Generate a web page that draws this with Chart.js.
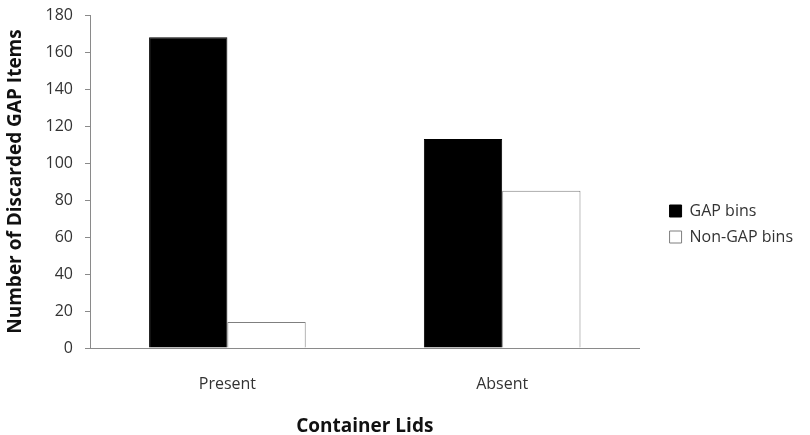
<!DOCTYPE html>
<html>
<head>
<meta charset="utf-8">
<script src="https://cdn.jsdelivr.net/npm/chart.js@4"></script>
<style>
  html, body { margin: 0; padding: 0; background: #fff; }
  #wrap { width: 810px; height: 435px; }
</style>
</head>
<body>
<div id="wrap"><canvas id="chart"></canvas></div>
<script>
const categories = ["Present", "Absent"];
const gap_bins = [168, 113];
const non_gap_bins = [14, 85];
const series_names = ["GAP bins", "Non-GAP bins"];
const y_ticks = [0, 20, 40, 60, 80, 100, 120, 140, 160, 180];

const font_family = "'Open Sans', 'Noto Sans', sans-serif";
const legend_gap = 20;
const ctx = document.getElementById("chart").getContext("2d");

// push the legend a bit away from the plot, like the original
const legendShift = {
  id: "legendShift",
  beforeLayout(chart) {
    const lg = chart.legend;
    if (!lg || lg._shifted) return;
    lg._shifted = true;
    const fit = lg.fit.bind(lg);
    lg.fit = function () { fit(); this.width += legend_gap + 7; };
    const draw = lg.draw.bind(lg);
    lg.draw = function () {
      const c = this.ctx;
      c.save();
      c.translate(legend_gap, -1);
      draw();
      c.restore();
    };
  },
};

const my_chart = new Chart(ctx, {
  type: "bar",
  data: {
    labels: categories,
    datasets: [
      {
        label: series_names[0],
        data: gap_bins,
        backgroundColor: "#000",
        borderColor: "#000",
        borderWidth: 1,
      },
      {
        label: series_names[1],
        data: non_gap_bins,
        backgroundColor: "#fff",
        borderColor: "#7f7f7f",
        borderWidth: 1,
      },
    ],
  },
  plugins: [legendShift],
  options: {
    responsive: true,
    maintainAspectRatio: false,
    animation: false,
    layout: { padding: { top: 15, left: 0, right: 0, bottom: 0 } },
    datasets: { bar: { categoryPercentage: 0.57, barPercentage: 1.0 } },
    plugins: {
      tooltip: { enabled: false },
      legend: {
        position: "right",
        labels: {
          color: "#333",
          font: { family: font_family, size: 16 },
          boxWidth: 12,
          boxHeight: 12,
          padding: 10,
        },
      },
    },
    scales: {
      x: {
        grid: { display: false, drawTicks: false },
        border: { color: "#8a8a8a", width: 1 },
        ticks: { color: "#333", font: { family: font_family, size: 16 }, padding: 27 },
        title: {
          display: true,
          text: "Container Lids",
          color: "#111",
          font: { family: font_family, size: 19, weight: "bold" },
          padding: { top: 4, bottom: -3 },
        },
        afterFit: (scale) => { scale.height = 87; },
      },
      y: {
        min: 0,
        max: 180,
        afterBuildTicks: (scale) => { scale.ticks = y_ticks.map((v) => ({ value: v })); },
        grid: { display: true, drawOnChartArea: false, tickLength: 5, color: "#8a8a8a" },
        border: { color: "#8a8a8a", width: 1 },
        ticks: { color: "#333", font: { family: font_family, size: 16 }, padding: 12 },
        title: {
          display: true,
          text: "Number of Discarded GAP Items",
          color: "#111",
          font: { family: font_family, size: 19, weight: "bold" },
          padding: { bottom: 8 },
        },
        afterFit: (scale) => {
          scale.width = 90;
          scale.paddingTop = 0;
        },
      },
    },
  },
});
</script>
</body>
</html>
